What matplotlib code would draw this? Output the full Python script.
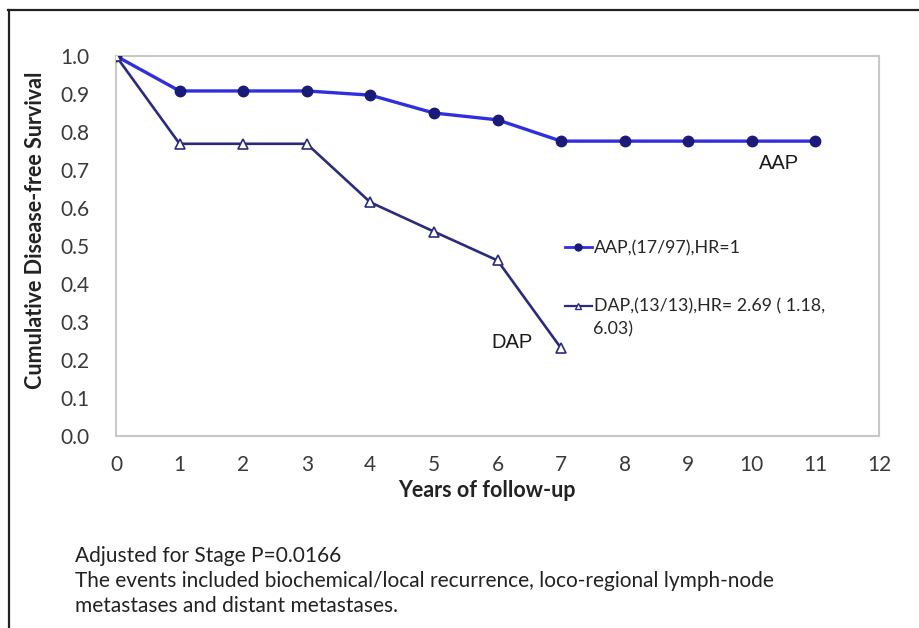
import matplotlib
matplotlib.use("Agg")
import matplotlib.pyplot as plt
from matplotlib.lines import Line2D

years = [0, 1, 2, 3, 4, 5, 6, 7, 8, 9, 10, 11]
aap_surv = [1.0, 0.908, 0.908, 0.908, 0.897, 0.850, 0.832, 0.776, 0.776, 0.776, 0.776, 0.776]
dap_years = [0, 1, 2, 3, 4, 5, 6, 7]
dap_surv = [1.0, 0.769, 0.769, 0.769, 0.615, 0.538, 0.462, 0.231]
aap_label = "AAP,(17/97),HR=1"
dap_label = "DAP,(13/13),HR= 2.69 ( 1.18,"
dap_label2 = "6.03)"
x_ticks = list(range(0, 13))
y_ticks = [0.0, 0.1, 0.2, 0.3, 0.4, 0.5, 0.6, 0.7, 0.8, 0.9, 1.0]

W, H = 919, 628
fig = plt.figure(figsize=(W / 100, H / 100), dpi=100)
fig.patch.set_facecolor("white")
ax = fig.add_axes([116 / W, 1 - 436 / H, (879 - 116) / W, (436 - 56) / H])

calibri = ["Lato", "DejaVu Sans"]
arial = ["Liberation Sans", "DejaVu Sans"]
tick_col = "#3a3a3a"

aap_line = "#2f2fe0"
aap_mark = "#1a1a78"
dap_col = "#2b2b7e"

ax.plot(years, aap_surv, color=aap_line, lw=2.4, marker="o", ms=7.5,
        mfc=aap_mark, mec=aap_mark, label=aap_label, zorder=3)
ax.plot(dap_years, dap_surv, color=dap_col, lw=1.9, marker="^", ms=7,
        mfc="white", mec=dap_col, mew=1.2, label=dap_label, zorder=3)

ax.set_xlim(0, 12)
ax.set_ylim(0, 1.0)
ax.set_xticks(x_ticks)
ax.set_yticks(y_ticks)
ax.set_xticklabels([str(t) for t in x_ticks], fontfamily=calibri, fontsize=15, color=tick_col)
ax.set_yticklabels([f"{t:.1f}" for t in y_ticks], fontfamily=calibri, fontsize=15, color=tick_col)
ax.tick_params(axis="y", length=0, pad=19)
ax.tick_params(axis="x", length=0, pad=14)
for s in ax.spines.values():
    s.set_color("#c8c8c8")
    s.set_linewidth(1.5)
ax.set_xlabel("Years of follow-up", fontfamily=calibri, fontweight="bold", fontsize=15.5,
              color="#222222")
ax.xaxis.set_label_coords(0.486, -0.116)
ax.set_ylabel("Cumulative Disease-free Survival", fontfamily=calibri, fontweight="bold",
              fontsize=15.5, color="#222222")
ax.yaxis.set_label_coords(-0.092, 0.542)

ax.text(10.42, 0.716, "AAP", fontfamily=arial, fontsize=14.5, color="#1a1a1a",
        ha="center", va="center")
ax.text(6.23, 0.247, "DAP", fontfamily=arial, fontsize=14.5, color="#1a1a1a",
        ha="center", va="center")

h1 = Line2D([], [], color=aap_line, lw=2.0, marker="o", ms=5, mfc=aap_mark, mec=aap_mark)
h2 = Line2D([], [], color=dap_col, lw=1.6, marker="^", ms=5, mfc="white", mec=dap_col)
leg = fig.legend([h1, h2], [aap_label, dap_label], loc="upper left",
                 bbox_to_anchor=(565 / W, 1 - 240 / H), frameon=False,
                 prop={"family": calibri, "size": 12.8}, handlelength=1.5,
                 handletextpad=0.12, labelspacing=2.4, borderpad=0, borderaxespad=0)
for t in leg.get_texts():
    t.set_color("#262626")
fig.text(593 / W, 1 - 329 / H, dap_label2, fontfamily=calibri, fontsize=12.8,
         color="#262626", va="center", ha="left")

foot = ["Adjusted for Stage P=0.0166",
        "The events included biochemical/local recurrence, loco-regional lymph-node",
        "metastases and distant metastases."]
for i, line in enumerate(foot):
    fig.text(75 / W, 1 - (556 + 25 * i) / H, line, fontfamily=calibri, fontsize=15,
             color="#222222", va="center", ha="left")

fig.add_artist(Line2D([8 / W, 1.0], [1 - 10 / H, 1 - 10 / H], transform=fig.transFigure,
                      color="#222222", lw=1.6))
fig.add_artist(Line2D([9 / W, 9 / W], [0.0, 1 - 10 / H], transform=fig.transFigure,
                      color="#222222", lw=1.6))

fig.savefig("out.png", dpi=100)
